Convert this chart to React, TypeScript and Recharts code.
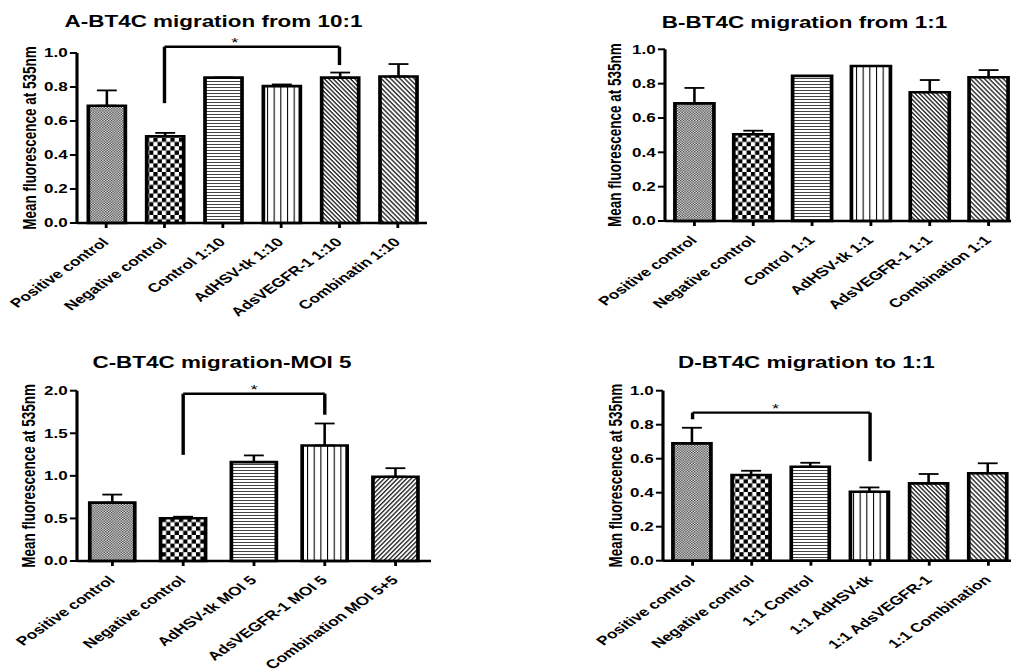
import React from 'react';
import { BarChart, Bar, XAxis, YAxis, Cell, ErrorBar, ReferenceLine } from 'recharts';

// horizontal stretch of the original figure
const S = 1.42;
const FONT = '"Liberation Sans", Arial, Helvetica, sans-serif';

// ---- Panel A ----
const catA = ['Positive control', 'Negative control', 'Control 1:10', 'AdHSV-tk 1:10', 'AdsVEGFR-1 1:10', 'Combinatin 1:10'];
const meanA = [0.69, 0.51, 0.855, 0.805, 0.855, 0.862];
const errA = [0.09, 0.02, 0, 0.01, 0.03, 0.073];

// ---- Panel B ----
const catB = ['Positive control', 'Negative control', 'Control 1:1', 'AdHSV-tk 1:1', 'AdsVEGFR-1 1:1', 'Combination 1:1'];
const meanB = [0.685, 0.505, 0.845, 0.903, 0.75, 0.837];
const errB = [0.09, 0.021, 0, 0, 0.071, 0.042];

// ---- Panel C ----
const catC = ['Positive control', 'Negative control', 'AdHSV-tk MOI 5', 'AdsVEGFR-1 MOI 5', 'Combination MOI 5+5'];
const meanC = [0.686, 0.502, 1.161, 1.357, 0.99];
const errC = [0.094, 0.018, 0.079, 0.258, 0.1];

// ---- Panel D ----
const catD = ['Positive control', 'Negative control', '1:1 Control', '1:1 AdHSV-tk', '1:1 AdsVEGFR-1', '1:1 Combination'];
const meanD = [0.69, 0.504, 0.553, 0.406, 0.455, 0.514];
const errD = [0.092, 0.025, 0.023, 0.025, 0.055, 0.059];

const ticks01 = [0, 0.2, 0.4, 0.6, 0.8, 1.0];
const ticks02 = [0, 0.5, 1.0, 1.5, 2.0];

const patsSix = ['pFine', 'pCheck', 'pH', 'pV', 'pD1', 'pD2'];
const patsFive = ['pFine', 'pCheck', 'pH', 'pV', 'pD3'];

const titles = ['A-BT4C migration from 10:1', 'B-BT4C migration from 1:1', 'C-BT4C migration-MOI 5', 'D-BT4C migration to 1:1'];
const yLabel = 'Mean fluorescence at 535nm';

type Bracket = { from: string; to: string; top: number; fromBottom: number; toBottom: number; starDx: number };

const bracketA: Bracket = { from: 'Negative control', to: 'AdsVEGFR-1 1:10', top: 1.037, fromBottom: 0.705, toBottom: 0.929, starDx: -12 };
const bracketC: Bracket = { from: 'Negative control', to: 'AdsVEGFR-1 MOI 5', top: 1.965, fromBottom: 1.247, toBottom: 1.718, starDx: 0 };
const bracketD: Bracket = { from: 'Positive control', to: '1:1 AdHSV-tk', top: 0.871, fromBottom: 0.832, toBottom: 0.585, starDx: -4 };

function PatternDefs() {
  return (
    <svg width={0} height={0} style={{ position: 'absolute' }}>
      <defs>
        <pattern id="pFine" width={2} height={2.4} patternUnits="userSpaceOnUse">
          <rect width={2} height={2.4} fill="#fff" />
          <rect width={1} height={1.2} fill="#2a2a2a" />
          <rect x={1} y={1.2} width={1} height={1.2} fill="#2a2a2a" />
        </pattern>
        <pattern id="pCheck" width={6} height={8.6} patternUnits="userSpaceOnUse">
          <rect width={6} height={8.6} fill="#fff" />
          <rect width={3} height={4.3} fill="#000" />
          <rect x={3} y={4.3} width={3} height={4.3} fill="#000" />
        </pattern>
        <pattern id="pH" width={4} height={3} patternUnits="userSpaceOnUse">
          <rect width={4} height={3} fill="#fff" />
          <rect width={4} height={1} fill="#444" />
        </pattern>
        <pattern id="pV" width={4.7} height={4} patternUnits="userSpaceOnUse">
          <rect width={4.7} height={4} fill="#fff" />
          <rect width={0.75} height={4} fill="#000" />
        </pattern>
        <pattern id="pD1" width={4} height={2.5} patternUnits="userSpaceOnUse" patternTransform="rotate(55)">
          <rect width={4} height={2.5} fill="#fff" />
          <rect width={4} height={1.1} fill="#222" />
        </pattern>
        <pattern id="pD2" width={4} height={2.7} patternUnits="userSpaceOnUse" patternTransform="rotate(55)">
          <rect width={4} height={2.7} fill="#fff" />
          <rect width={4} height={1.2} fill="#333" />
        </pattern>
        <pattern id="pD3" width={4} height={2.6} patternUnits="userSpaceOnUse" patternTransform="rotate(-55)">
          <rect width={4} height={2.6} fill="#fff" />
          <rect width={4} height={1.1} fill="#222" />
        </pattern>
      </defs>
    </svg>
  );
}

const XTick = (props: any) => {
  const { x, y, payload } = props;
  return (
    <g transform={`translate(${x + 2.5},${y + 13})`}>
      <text x={0} y={0} textAnchor="end" transform="rotate(-45)" fontFamily={FONT} fontWeight="bold" fontSize={12.3} fill="#000">
        {payload.value}
      </text>
    </g>
  );
};

type PanelProps = {
  left: number; top: number; width: number; height: number;
  plotLeft: number; plotRight: number; plotTop: number; plotBottom: number;
  title: string; titleX: number; titleY: number; labelX: number; barSize: number;
  cats: string[]; means: number[]; errs: number[]; pats: string[];
  yMax: number; yTicks: number[]; bracket?: Bracket;
};

function Panel(p: PanelProps) {
  const W = p.width / S;
  const xAxisH = 90;
  const margin = { top: p.plotTop, right: (p.width - p.plotRight) / S, bottom: p.height - p.plotBottom - xAxisH, left: 0 };
  const data = p.cats.map((c, i) => ({ name: c, value: p.means[i], err: [0, p.errs[i]] }));
  const lblFont = 13.5;
  const lblBase = p.labelX / S + 0.36 * lblFont;
  const lblY = (p.plotTop + p.plotBottom) / 2;
  const lineStyle = { stroke: '#000', strokeWidth: 2.4 };
  const b = p.bracket;
  return (
    <div style={{ position: 'absolute', left: p.left, top: p.top, width: W, height: p.height, transform: `scaleX(${S})`, transformOrigin: '0 0' }}>
      <BarChart width={W} height={p.height} data={data} margin={margin}>
        <XAxis
          dataKey="name"
          type="category"
          interval={0}
          height={xAxisH}
          tick={<XTick />}
          tickSize={5}
          tickMargin={2}
          tickLine={{ stroke: '#000', strokeWidth: 2 }}
          axisLine={{ stroke: '#000', strokeWidth: 2.6 }}
        />
        <YAxis
          width={p.plotLeft / S}
          domain={[0, p.yMax]}
          ticks={p.yTicks}
          type="number"
          tickFormatter={(v: number) => v.toFixed(1)}
          tickSize={5}
          tickMargin={1.5}
          tick={{ fontSize: 12, fontWeight: 'bold', fill: '#000', fontFamily: FONT }}
          tickLine={{ stroke: '#000', strokeWidth: 2 }}
          axisLine={{ stroke: '#000', strokeWidth: 2.2 }}
        />
        <Bar dataKey="value" barSize={p.barSize / S} stroke="#000" strokeWidth={2.6} isAnimationActive={false}>
          {data.map((d, i) => (
            <Cell key={d.name} fill={`url(#${p.pats[i]})`} />
          ))}
          <ErrorBar dataKey="err" direction="y" width={7} stroke="#000" strokeWidth={1.8} isAnimationActive={false} />
        </Bar>
        {b && (
          <ReferenceLine
            segment={[{ x: b.from, y: b.fromBottom }, { x: b.from, y: b.top }]}
            {...lineStyle}
            ifOverflow="visible"
          />
        )}
        {b && (
          <ReferenceLine
            segment={[{ x: b.from, y: b.top }, { x: b.to, y: b.top }]}
            {...lineStyle}
            ifOverflow="visible"
            label={{ value: '*', position: 'top', offset: 0, fontSize: 13, fill: '#000', fontFamily: FONT, dx: b.starDx }}
          />
        )}
        {b && (
          <ReferenceLine
            segment={[{ x: b.to, y: b.top }, { x: b.to, y: b.toBottom }]}
            {...lineStyle}
            ifOverflow="visible"
          />
        )}
      </BarChart>
      <svg width={W} height={p.height} style={{ position: 'absolute', left: 0, top: 0, pointerEvents: 'none', overflow: 'visible' }}>
        <text x={p.titleX / S} y={p.titleY} textAnchor="middle" fontFamily={FONT} fontWeight="bold" fontSize={15.8} fill="#000">
          {p.title}
        </text>
        <text transform={`translate(${lblBase},${lblY}) rotate(-90)`} textAnchor="middle" fontFamily={FONT} fontWeight="bold" fontSize={lblFont} fill="#000">
          {yLabel}
        </text>
      </svg>
    </div>
  );
}

export default function App() {
  return (
    <div style={{ position: 'absolute', left: 0, top: 0, width: 1011, height: 672, overflow: 'hidden', background: '#fff', fontFamily: FONT }}>
      <PatternDefs />
      <Panel left={0} top={0} width={440} height={320} plotLeft={77} plotRight={427} plotTop={53} plotBottom={223}
        title={titles[0]} titleX={213.5} titleY={27} labelX={29} barSize={37}
        cats={catA} means={meanA} errs={errA} pats={patsSix} yMax={1} yTicks={ticks01} bracket={bracketA} />
      <Panel left={589} top={0} width={440} height={320} plotLeft={76} plotRight={429} plotTop={49.3} plotBottom={221}
        title={titles[1]} titleX={215.5} titleY={28} labelX={25} barSize={39}
        cats={catB} means={meanB} errs={errB} pats={patsSix} yMax={1} yTicks={ticks01} />
      <Panel left={0} top={320} width={440} height={352} plotLeft={77} plotRight={431} plotTop={70.7} plotBottom={241}
        title={titles[2]} titleX={222} titleY={48.3} labelX={28.5} barSize={45}
        cats={catC} means={meanC} errs={errC} pats={patsFive} yMax={2} yTicks={ticks02} bracket={bracketC} />
      <Panel left={586} top={320} width={440} height={352} plotLeft={77} plotRight={432} plotTop={70.7} plotBottom={240.7}
        title={titles[3]} titleX={220.4} titleY={48} labelX={29.5} barSize={38}
        cats={catD} means={meanD} errs={errD} pats={patsSix} yMax={1} yTicks={ticks01} bracket={bracketD} />
    </div>
  );
}
